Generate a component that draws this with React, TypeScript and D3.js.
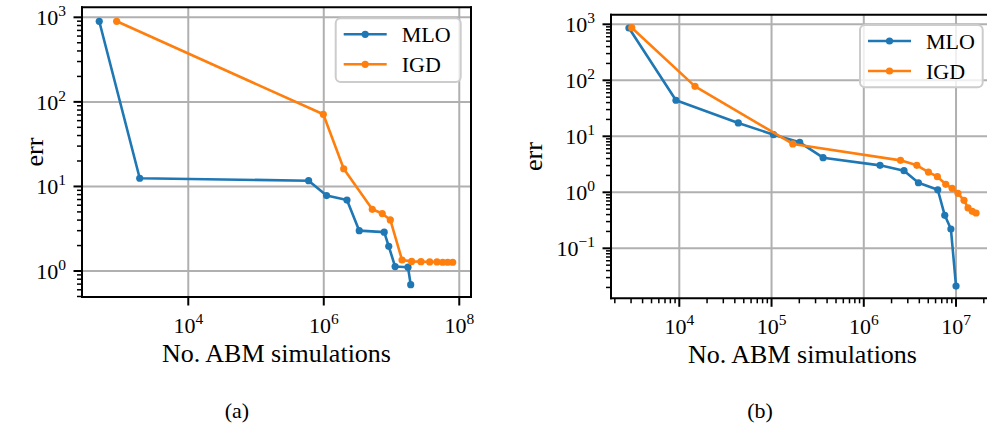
import React from "react";
import * as d3 from "d3";

// Panel (a): error vs. number of ABM simulations
const mloA_x = [485, 1920, 598000, 1.1e6, 2.2e6, 3.34e6, 7.8e6, 9.1e6, 1.13e7, 1.75e7, 1.92e7];
const mloA_y = [897, 12.5, 11.7, 7.8, 6.9, 3.0, 2.88, 1.96, 1.13, 1.11, 0.69];
const igdA_x = [877, 9.84e5, 1.97e6, 5.2e6, 7.3e6, 9.6e6, 1.43e7, 1.98e7, 2.72e7, 3.66e7, 4.69e7, 5.69e7, 6.74e7, 8.0e7];
const igdA_y = [897, 71.3, 16.2, 5.37, 4.78, 4.02, 1.35, 1.3, 1.29, 1.28, 1.28, 1.27, 1.27, 1.27];

// Panel (b)
const mloB_x = [2845, 9200, 43600, 105000, 202000, 362000, 1.5e6, 2.73e6, 3.91e6, 6.34e6, 7.55e6, 8.8e6, 1.0e7];
const mloB_y = [859, 44, 17.3, 10.7, 7.8, 4.15, 3.03, 2.43, 1.48, 1.11, 0.388, 0.221, 0.0212];
const igdB_x = [3050, 14800, 170000, 2.5e6, 3.76e6, 5.02e6, 6.28e6, 7.74e6, 9.07e6, 1.05e7, 1.22e7, 1.35e7, 1.5e7, 1.65e7];
const igdB_y = [870, 78, 7.3, 3.72, 3.03, 2.3, 1.9, 1.39, 1.18, 0.96, 0.72, 0.525, 0.458, 0.427];

// Major tick values (decades)
const xTicksA = [1e4, 1e6, 1e8];
const yTicksA = [1, 10, 100, 1000];
const xTicksB = [1e4, 1e5, 1e6, 1e7];
const yTicksB = [0.1, 1, 10, 100, 1000];

const seriesNames = ["MLO", "IGD"];
const captions = ["(a)", "(b)"];
const xLabel = "No. ABM simulations";
const yLabel = "err";

const BLUE = "#1f77b4";
const ORANGE = "#ff7f0e";
const GRID = "#b0b0b0";
const FONT = "'Liberation Serif', 'DejaVu Serif', serif";

type Series = { xs: number[]; ys: number[]; color: string };

type PanelProps = {
  id: string;
  left: number;
  right: number;
  top: number;
  bottom: number;
  xDomain: [number, number];
  yDomain: [number, number];
  xTicks: number[];
  yTicks: number[];
  xMinor: boolean;
  showRightSpine: boolean;
  series: Series[];
  legend: { x: number; y: number; w: number; h: number };
  yLabelX: number;
  caption: string;
  captionX: number;
};

function Pow10({ v, x, y, anchor }: { v: number; x: number; y: number; anchor: string }) {
  const e = Math.round(Math.log10(v));
  const exp = e < 0 ? "\u2212" + Math.abs(e) : String(e);
  return (
    <text x={x} y={y} textAnchor={anchor} fontFamily={FONT} fontSize={22} fill="#000">
      <tspan>10</tspan>
      <tspan dy={-9} fontSize={15.5}>{exp}</tspan>
    </text>
  );
}

function Panel(p: PanelProps) {
  const xs = d3.scaleLog().domain(p.xDomain).range([p.left, p.right]);
  const ys = d3.scaleLog().domain(p.yDomain).range([p.bottom, p.top]);
  const isMajor = (t: number, majors: number[]) => majors.some((m) => Math.abs(t / m - 1) < 1e-9);
  const yMinor = ys.ticks(20).filter((t) => !isMajor(t, p.yTicks));
  const xMinor = p.xMinor ? xs.ticks(20).filter((t) => !isMajor(t, p.xTicks)) : [];
  const line = d3
    .line<[number, number]>()
    .x((d) => xs(d[0]))
    .y((d) => ys(d[1]));
  const clipId = "clip-" + p.id;
  const visRight = Math.min(p.right, 987);
  const lg = p.legend;
  return (
    <g>
      <defs>
        <clipPath id={clipId}>
          <rect x={p.left} y={p.top} width={p.right - p.left} height={p.bottom - p.top} />
        </clipPath>
      </defs>
      {/* grid */}
      <g stroke={GRID} strokeWidth={2}>
        {p.xTicks.map((t) => (
          <line key={"gx" + t} x1={xs(t)} x2={xs(t)} y1={p.top} y2={p.bottom} />
        ))}
        {p.yTicks.map((t) => (
          <line key={"gy" + t} x1={p.left} x2={p.right} y1={ys(t)} y2={ys(t)} />
        ))}
      </g>
      {/* data */}
      <g clipPath={`url(#${clipId})`}>
        {p.series.map((s, i) => {
          const pts = s.xs.map((x, j) => [x, s.ys[j]] as [number, number]);
          return (
            <g key={"s" + i}>
              <path d={line(pts) || ""} fill="none" stroke={s.color} strokeWidth={2.6} strokeLinejoin="round" />
              {pts.map((d, j) => (
                <circle key={j} cx={xs(d[0])} cy={ys(d[1])} r={3.6} fill={s.color} />
              ))}
            </g>
          );
        })}
      </g>
      {/* spines */}
      <g stroke="#000" strokeWidth={2} fill="none">
        <line x1={p.left} x2={p.left} y1={p.top - 1} y2={p.bottom + 1} />
        <line x1={p.left - 1} x2={visRight + 1} y1={p.bottom} y2={p.bottom} />
        <line x1={p.left - 1} x2={visRight + 1} y1={p.top} y2={p.top} />
        {p.showRightSpine && <line x1={p.right} x2={p.right} y1={p.top - 1} y2={p.bottom + 1} />}
      </g>
      {/* ticks */}
      <g stroke="#000">
        {p.xTicks.map((t) => (
          <line key={"tx" + t} x1={xs(t)} x2={xs(t)} y1={p.bottom} y2={p.bottom + 8.5} strokeWidth={2} />
        ))}
        {xMinor.map((t) => (
          <line key={"mx" + t} x1={xs(t)} x2={xs(t)} y1={p.bottom} y2={p.bottom + 5} strokeWidth={1.5} />
        ))}
        {p.yTicks.map((t) => (
          <line key={"ty" + t} x1={p.left - 8.5} x2={p.left} y1={ys(t)} y2={ys(t)} strokeWidth={2} />
        ))}
        {yMinor.map((t) => (
          <line key={"my" + t} x1={p.left - 5} x2={p.left} y1={ys(t)} y2={ys(t)} strokeWidth={1.5} />
        ))}
      </g>
      {/* tick labels */}
      {p.xTicks.map((t) => (
        <Pow10 key={"lx" + t} v={t} x={xs(t)} y={p.bottom + 36} anchor="middle" />
      ))}
      {p.yTicks.map((t) => (
        <Pow10 key={"ly" + t} v={t} x={p.left - 16} y={ys(t) + 8} anchor="end" />
      ))}
      {/* axis labels */}
      <text
        x={(p.left + p.right) / 2}
        y={p.bottom + 65}
        textAnchor="middle"
        fontFamily={FONT}
        fontSize={26}
      >
        {xLabel}
      </text>
      <text
        transform={`translate(${p.yLabelX},${(p.top + p.bottom) / 2}) rotate(-90)`}
        textAnchor="middle"
        fontFamily={FONT}
        fontSize={26}
      >
        {yLabel}
      </text>
      {/* legend */}
      <g>
        <rect x={lg.x} y={lg.y} width={lg.w} height={lg.h} rx={5} fill="#fff" fillOpacity={0.8} stroke="#cccccc" strokeWidth={2} />
        {p.series.map((s, i) => {
          const cy = lg.y + 16 + i * 30;
          return (
            <g key={"lg" + i}>
              <line x1={lg.x + 8} x2={lg.x + 51} y1={cy} y2={cy} stroke={s.color} strokeWidth={2.6} />
              <circle cx={lg.x + 29.5} cy={cy} r={3.6} fill={s.color} />
              <text x={lg.x + 66} y={cy + 8} fontFamily={FONT} fontSize={22}>
                {seriesNames[i]}
              </text>
            </g>
          );
        })}
      </g>
      <text x={p.captionX} y={418} textAnchor="middle" fontFamily={FONT} fontSize={22}>
        {p.caption}
      </text>
    </g>
  );
}

export default function App() {
  return (
    <svg
      width={987}
      height={431}
      viewBox="0 0 987 431"
      style={{ position: "absolute", left: 0, top: 0, background: "#fff" }}
    >
      <rect x={0} y={0} width={987} height={431} fill="#fff" />
      <Panel
        id="a"
        left={82}
        right={471}
        top={7.3}
        bottom={297}
        xDomain={[270, 1.49e8]}
        yDomain={[0.493, 1313]}
        xTicks={xTicksA}
        yTicks={yTicksA}
        xMinor={false}
        showRightSpine={true}
        series={[
          { xs: mloA_x, ys: mloA_y, color: BLUE },
          { xs: igdA_x, ys: igdA_y, color: ORANGE },
        ]}
        legend={{ x: 335.7, y: 18.3, w: 125, h: 63.7 }}
        yLabelX={43}
        caption={captions[0]}
        captionX={237}
      />
      <Panel
        id="b"
        left={611}
        right={994}
        top={14.7}
        bottom={298.3}
        xDomain={[1818, 2.58e7]}
        yDomain={[0.0128, 1484]}
        xTicks={xTicksB}
        yTicks={yTicksB}
        xMinor={true}
        showRightSpine={false}
        series={[
          { xs: mloB_x, ys: mloB_y, color: BLUE },
          { xs: igdB_x, ys: igdB_y, color: ORANGE },
        ]}
        legend={{ x: 860, y: 25, w: 122.7, h: 62.3 }}
        yLabelX={542}
        caption={captions[1]}
        captionX={760}
      />
    </svg>
  );
}
